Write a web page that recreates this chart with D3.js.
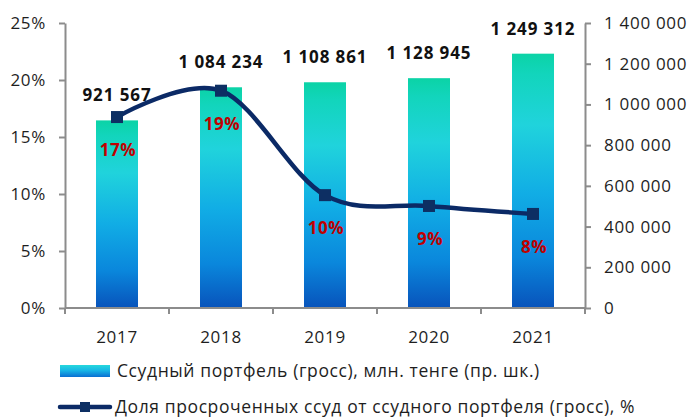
<!DOCTYPE html>
<html>
<head>
<meta charset="utf-8">
<script src="https://cdn.jsdelivr.net/npm/d3@7"></script>
<style>
  body { margin: 0; background: #fff; }
  text { font-family: "Open Sans", "DejaVu Sans", sans-serif; }
</style>
</head>
<body>
<div id="chart"></div>
<script>
var years = ["2017", "2018", "2019", "2020", "2021"];
var portfolio = [921567, 1084234, 1108861, 1128945, 1249312];
var overdueShare = [0.1675, 0.1906, 0.099, 0.0895, 0.0825];
var leftTicks = [0, 0.05, 0.10, 0.15, 0.20, 0.25];
var rightTicks = [0, 200000, 400000, 600000, 800000, 1000000, 1200000, 1400000];
var legendLabels = [
	"Ссудный портфель (гросс), млн. тенге (пр. шк.)",
	"Доля просроченных ссуд от ссудного портфеля (гросс), %"
];

var width = 690, height = 417;
var margin = {top: 23, right: 105, bottom: 109, left: 65};
var innerW = width - margin.left - margin.right,
		innerH = height - margin.top - margin.bottom;

var ru = d3.formatLocale({decimal: ",", thousands: " ", grouping: [3], currency: ["", ""]});
var fmtNum = ru.format(",d");
var fmtPct = d3.format(".0%");

var axisColor = "#8c8c8c",
		lineColor = "#0b2a66",
		markerColor = "#0d2f63",
		pctColor = "#c00000",
		textColor = "#1e1e1e";

var svg = d3.select("#chart").append("svg")
		.attr("width", width)
		.attr("height", height);

// gradients
var defs = svg.append("defs");
var grad = defs.append("linearGradient")
		.attr("id", "barGrad")
		.attr("x1", 0).attr("y1", 0).attr("x2", 0).attr("y2", 1);
[["0%", "#0bd3a6"], ["8%", "#12d5bc"], ["28%", "#20d3dc"], ["55%", "#11ade5"], ["80%", "#0a87dc"], ["100%", "#0853bb"]]
	.forEach(function(s) { grad.append("stop").attr("offset", s[0]).attr("stop-color", s[1]); });

var lgrad = defs.append("linearGradient")
		.attr("id", "legGrad")
		.attr("x1", 0).attr("y1", 0).attr("x2", 0).attr("y2", 1);
[["0%", "#26d8dc"], ["45%", "#18b6e6"], ["100%", "#0a6fd2"]]
	.forEach(function(s) { lgrad.append("stop").attr("offset", s[0]).attr("stop-color", s[1]); });

var g = svg.append("g").attr("transform", "translate(" + margin.left + "," + margin.top + ")");

var xBand = d3.scaleBand().domain(years).range([0, innerW]);
var yLeft = d3.scaleLinear().domain([0, 0.25]).range([innerH, 0]);
var yRight = d3.scaleLinear().domain([0, 1400000]).range([innerH, 0]);

function center(d) { return xBand(d) + xBand.bandwidth() / 2; }

// bars
var barW = 42;
g.append("g").selectAll("rect")
	.data(years)
	.enter().append("rect")
		.attr("x", function(d) { return center(d) - barW / 2; })
		.attr("y", function(d, i) { return yRight(portfolio[i]); })
		.attr("width", barW)
		.attr("height", function(d, i) { return innerH - yRight(portfolio[i]); })
		.style("fill", "url(#barGrad)");

// axes
var leftAxis = d3.axisLeft(yLeft).tickValues(leftTicks).tickFormat(fmtPct).tickSizeInner(6).tickSizeOuter(0).tickPadding(13);
var rightAxis = d3.axisRight(yRight).tickValues(rightTicks).tickFormat(fmtNum).tickSizeInner(6).tickSizeOuter(0).tickPadding(13);

var gl = g.append("g").attr("class", "axis").call(leftAxis);
var gr = g.append("g").attr("class", "axis").attr("transform", "translate(" + innerW + ",0)").call(rightAxis);

// x axis: line with ticks on category boundaries
var gx = g.append("g").attr("transform", "translate(0," + innerH + ")");
gx.append("line").attr("x1", 0).attr("x2", innerW).attr("y1", 0).attr("y2", 0)
	.attr("stroke", axisColor).attr("stroke-width", 2);
var bounds = years.map(function(d) { return xBand(d); }).concat([innerW]);
gx.selectAll(".xt").data(bounds).enter().append("line")
	.attr("x1", function(d) { return d; }).attr("x2", function(d) { return d; })
	.attr("y1", 0).attr("y2", 6)
	.attr("stroke", axisColor).attr("stroke-width", 2);
gx.selectAll(".xl").data(years).enter().append("text")
	.attr("x", center).attr("y", 35)
	.attr("text-anchor", "middle")
	.style("font-size", "17px").style("letter-spacing", "0.7px")
	.style("fill", textColor)
	.text(function(d) { return d; });

[gl, gr].forEach(function(a) {
	a.select(".domain").attr("stroke", axisColor).attr("stroke-width", 2);
	a.selectAll(".tick line").attr("stroke", axisColor).attr("stroke-width", 2);
	a.selectAll(".tick text")
		.style("font-size", "17px").style("letter-spacing", "0.7px")
		.style("fill", textColor)
		.style("font-family", "'Open Sans', sans-serif");
});

// value labels above bars
g.append("g").selectAll("text")
	.data(years)
	.enter().append("text")
		.attr("x", center)
		.attr("y", function(d, i) { return yRight(portfolio[i]) - 19; })
		.attr("text-anchor", "middle")
		.style("font-size", "17px").style("font-weight", "bold").style("letter-spacing", "0.9px")
		.style("fill", "#111")
		.text(function(d, i) { return fmtNum(portfolio[i]); });

// line
var line = d3.line()
		.x(function(d) { return center(d); })
		.y(function(d, i) { return yLeft(overdueShare[i]); })
		.curve(d3.curveCardinal.tension(0));

g.append("path")
	.datum(years)
	.attr("d", line)
	.attr("fill", "none")
	.attr("stroke", lineColor)
	.attr("stroke-width", 4.5)
	.attr("stroke-linecap", "round");

var mk = 12;
g.append("g").selectAll("rect")
	.data(years)
	.enter().append("rect")
		.attr("x", function(d) { return center(d) - mk / 2; })
		.attr("y", function(d, i) { return yLeft(overdueShare[i]) - mk / 2; })
		.attr("width", mk).attr("height", mk)
		.style("fill", markerColor);

// percent labels
g.append("g").selectAll("text")
	.data(years)
	.enter().append("text")
		.attr("x", function(d) { return center(d) + 1; })
		.attr("y", function(d, i) { return yLeft(overdueShare[i]) + 39; })
		.attr("text-anchor", "middle")
		.style("font-size", "17px").style("font-weight", "bold").style("letter-spacing", "0.5px")
		.style("fill", pctColor)
		.text(function(d, i) { return fmtPct(overdueShare[i]); });

// legend
var lg = svg.append("g");
lg.append("rect").attr("x", 60).attr("y", 365).attr("width", 50).attr("height", 12)
	.style("fill", "url(#legGrad)");
lg.append("text").attr("x", 117).attr("y", 377)
	.style("font-size", "17.5px").style("letter-spacing", "0.6px").style("fill", textColor)
	.text(legendLabels[0]);

lg.append("line").attr("x1", 60).attr("x2", 110).attr("y1", 407).attr("y2", 407)
	.attr("stroke", lineColor).attr("stroke-width", 4.5).attr("stroke-linecap", "round");
lg.append("rect").attr("x", 85 - 5).attr("y", 407 - 5).attr("width", 10).attr("height", 10)
	.style("fill", markerColor);
lg.append("text").attr("x", 115).attr("y", 413)
	.style("font-size", "17.5px").style("letter-spacing", "0.6px").style("fill", textColor)
	.text(legendLabels[1]);
</script>
</body>
</html>
